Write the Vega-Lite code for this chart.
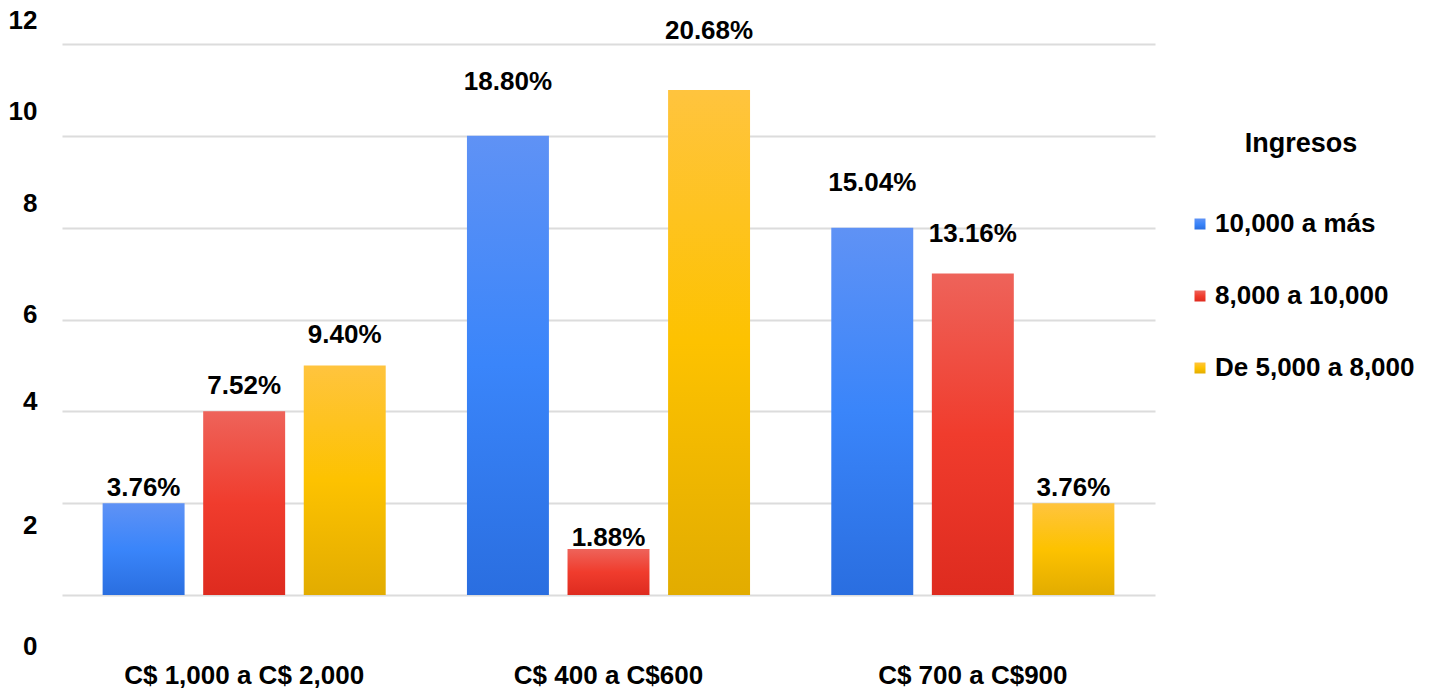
{
  "$schema": "https://vega.github.io/schema/vega-lite/v6.json",
  "width": 1093,
  "height": 551,
  "autosize": "none",
  "padding": {"left": 62, "top": 44, "right": 281, "bottom": 97},
  "background": "white",
  "config": {
    "view": {"stroke": null},
    "font": "Liberation Sans"
  },
  "data": {
    "values": [
      {"rango": "C$ 1,000 a C$ 2,000", "ingreso": "10,000 a más", "n": 2, "pct": 0.0376},
      {"rango": "C$ 1,000 a C$ 2,000", "ingreso": "8,000 a 10,000", "n": 4, "pct": 0.0752},
      {"rango": "C$ 1,000 a C$ 2,000", "ingreso": "De 5,000 a 8,000", "n": 5, "pct": 0.094},
      {"rango": "C$ 400 a C$600", "ingreso": "10,000 a más", "n": 10, "pct": 0.188},
      {"rango": "C$ 400 a C$600", "ingreso": "8,000 a 10,000", "n": 1, "pct": 0.0188},
      {"rango": "C$ 400 a C$600", "ingreso": "De 5,000 a 8,000", "n": 11, "pct": 0.2068},
      {"rango": "C$ 700 a C$900", "ingreso": "10,000 a más", "n": 8, "pct": 0.1504},
      {"rango": "C$ 700 a C$900", "ingreso": "8,000 a 10,000", "n": 7, "pct": 0.1316},
      {"rango": "C$ 700 a C$900", "ingreso": "De 5,000 a 8,000", "n": 2, "pct": 0.0376}
    ]
  },
  "encoding": {
    "x": {
      "field": "rango",
      "type": "nominal",
      "sort": ["C$ 1,000 a C$ 2,000", "C$ 400 a C$600", "C$ 700 a C$900"],
      "scale": {"paddingInner": 0.223, "paddingOuter": 0.1115},
      "axis": {
        "title": null,
        "ticks": false,
        "domain": false,
        "labelAngle": 0,
        "labelFont": "Liberation Sans",
        "labelFontSize": 26,
        "labelFontWeight": "bold",
        "labelColor": "#000000",
        "labelBaseline": "middle",
        "labelPadding": 80,
        "labelLimit": 500
      }
    },
    "xOffset": {
      "field": "ingreso",
      "type": "nominal",
      "sort": ["10,000 a más", "8,000 a 10,000", "De 5,000 a 8,000"],
      "scale": {"paddingInner": 0.185, "paddingOuter": 0}
    }
  },
  "layer": [
    {
      "mark": {"type": "bar"},
      "encoding": {
        "y": {
          "field": "n",
          "type": "quantitative",
          "scale": {"domain": [0, 12], "nice": false},
          "axis": {
            "title": null,
            "values": [0, 2, 4, 6, 8, 10, 12],
            "grid": true,
            "gridColor": "#dcdcdc",
            "gridWidth": 2,
            "ticks": false,
            "domain": false,
            "labelFont": "Liberation Sans",
            "labelFontSize": 26,
            "labelFontWeight": "bold",
            "labelColor": "#000000",
            "labelPadding": 25,
            "labelBaseline": "middle",
            "labelOverlap": false,
            "labelOffset": {"expr": "datum.value == 0 ? 51 : datum.value == 2 ? 22 : datum.value == 4 ? -10 : datum.value == 6 ? -5 : -24"}
          }
        },
        "color": {
          "field": "ingreso",
          "type": "nominal",
          "scale": {
            "domain": ["10,000 a más", "8,000 a 10,000", "De 5,000 a 8,000"],
            "range": [
              {"expr": "{gradient: 'linear', x1: 0, y1: 0, x2: 0, y2: 1, stops: [{offset: 0, color: '#5f92f5'}, {offset: 0.5, color: '#3a85fa'}, {offset: 1, color: '#2a6ee0'}]}"},
              {"expr": "{gradient: 'linear', x1: 0, y1: 0, x2: 0, y2: 1, stops: [{offset: 0, color: '#ee635a'}, {offset: 0.5, color: '#f03c2d'}, {offset: 1, color: '#de2b1f'}]}"},
              {"expr": "{gradient: 'linear', x1: 0, y1: 0, x2: 0, y2: 1, stops: [{offset: 0, color: '#ffc43e'}, {offset: 0.5, color: '#fdc200'}, {offset: 1, color: '#e2ac00'}]}"}
            ]
          },
          "legend": {
            "title": "Ingresos",
            "orient": "none",
            "legendX": 1125,
            "legendY": 87,
            "padding": 0,
            "titleFont": "Liberation Sans",
            "titleFontSize": 27,
            "titleFontWeight": "bold",
            "titleColor": "#000000",
            "titleAnchor": "middle",
            "titlePadding": 53,
            "titleLimit": 400,
            "labelFont": "Liberation Sans",
            "labelFontSize": 26,
            "labelFontWeight": "bold",
            "labelColor": "#000000",
            "labelLimit": 400,
            "labelOffset": 2,
            "symbolType": "square",
            "symbolSize": 121,
            "symbolStrokeWidth": 0,
            "rowPadding": 46
          }
        }
      }
    },
    {
      "mark": {
        "type": "text",
        "font": "Liberation Sans",
        "fontSize": 26,
        "fontWeight": "bold",
        "color": "#000000",
        "align": "center",
        "baseline": "middle"
      },
      "encoding": {
        "y": {
          "field": "n",
          "type": "quantitative",
          "scale": {"domain": [0, 12], "range": [545, -64], "nice": false},
          "axis": null
        },
        "text": {"field": "pct", "type": "quantitative", "format": ".2%"}
      }
    }
  ],
  "resolve": {"scale": {"y": "independent"}}
}
